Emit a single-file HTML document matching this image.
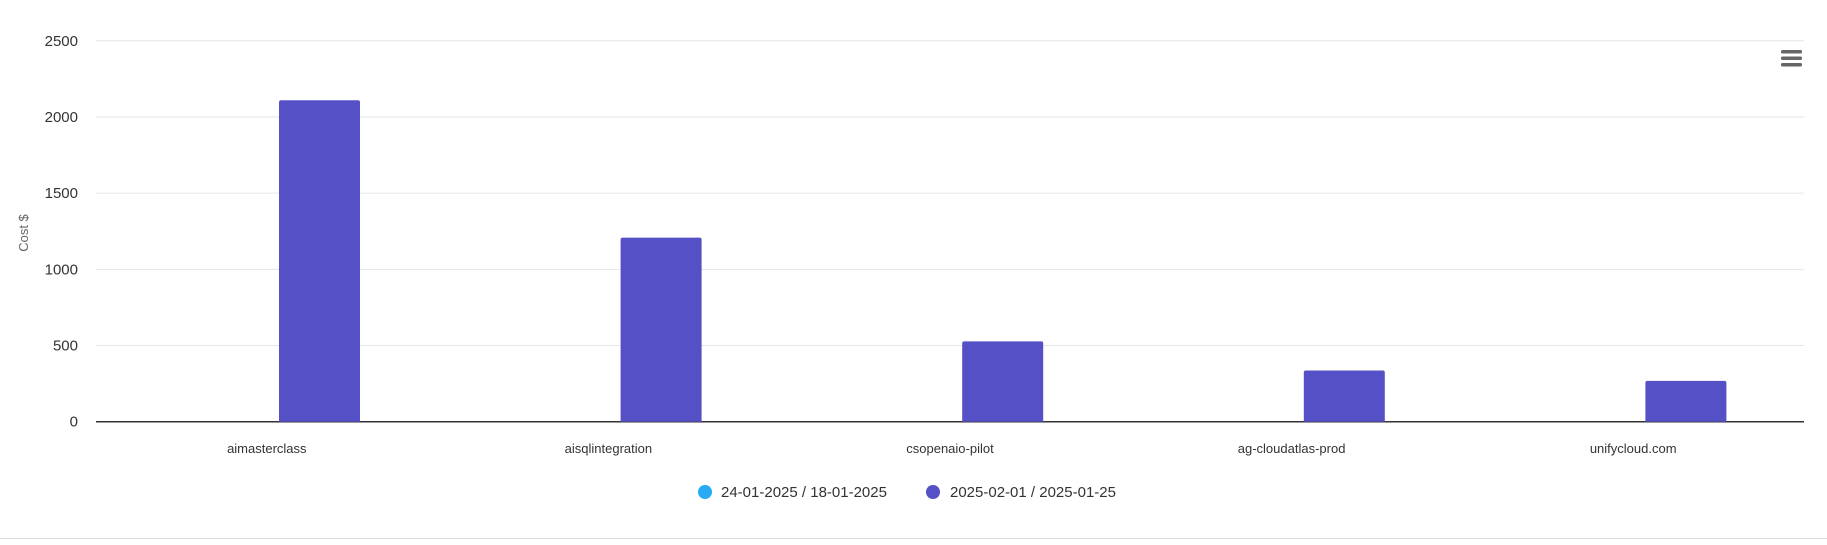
<!DOCTYPE html>
<html><head><meta charset="utf-8"><style>
html,body{margin:0;padding:0;background:#fff;width:1827px;height:545px;overflow:hidden;font-family:"Liberation Sans",Arial,sans-serif}
</style></head><body>
<svg id="chart" width="1827" height="545" xmlns="http://www.w3.org/2000/svg" font-family="Liberation Sans, Arial, sans-serif">
<g id="grid"></g>
<g id="bars"></g>
<g id="xlabels"></g>
<g id="ylabels"></g>
<text x="0" y="0" transform="translate(28,233) rotate(-90)" text-anchor="middle" font-size="13" fill="#666">Cost $</text>
<g fill="#666">
<rect x="1781" y="50" width="21" height="3.5" rx="1.5"/><rect x="1781" y="56.5" width="21" height="3.5" rx="1.5"/><rect x="1781" y="63" width="21" height="3.5" rx="1.5"/>
</g>
<g>
<g><circle cx="705" cy="492" r="7" fill="#29aaf4"/><text x="721" y="497" font-size="15" fill="#333">24-01-2025 / 18-01-2025</text></g>
<g><circle cx="933" cy="492" r="7" fill="#5550c5"/><text x="950" y="497" font-size="15" fill="#333">2025-02-01 / 2025-01-25</text></g>
</g>
<line x1="0" y1="538.5" x2="1827" y2="538.5" stroke="#ddd"/>
</svg>
<script>
const categories=["aimasterclass","aisqlintegration","csopenaio-pilot","ag-cloudatlas-prod","unifycloud.com"];
const series1=[0,0,0,0,0];
const series2=[2110,1208,527,336,268];
const yTicks=[0,500,1000,1500,2000,2500];
const NS="http://www.w3.org/2000/svg";
const L=96,R=1804,T=40.8,B=421.7,YMAX=2500;
const y=v=>B-(v/YMAX)*(B-T);
const cw=(R-L)/categories.length;
const xc=i=>L+cw*(i+0.5);
function mk(tag,attrs,parent){const e=document.createElementNS(NS,tag);for(const k in attrs)e.setAttribute(k,attrs[k]);document.getElementById(parent).appendChild(e);return e;}
yTicks.forEach(t=>{
  const g=mk('line',{x1:L,x2:R,y1:y(t),y2:y(t),stroke:t===0?'#333':'#e6e6e6','stroke-width':t===0?1.5:1},'grid');
  
  
  const tx=mk('text',{x:78,y:y(t)+5,'text-anchor':'end','font-size':15,fill:'#333'},'ylabels');
  tx.textContent=t;
  
  
});
const bw=81;
categories.forEach((c,i)=>{
  [series1,series2].forEach((s,j)=>{
    const v=s[i];if(v<=0)return;
    const x=xc(i)+(j===0?-1:1)*52.7-bw/2;
    const r=mk('path',{d:`M${x},${B} L${x},${y(v)+2} Q${x},${y(v)} ${x+2},${y(v)} L${x+bw-2},${y(v)} Q${x+bw},${y(v)} ${x+bw},${y(v)+2} L${x+bw},${B} Z`,fill:j===0?'#29aaf4':'#5550c5'},'bars');
    
    
  });
  const t=mk('text',{x:xc(i),y:453,'text-anchor':'middle','font-size':13,fill:'#333'},'xlabels');
  t.textContent=c;
  
  
});
</script>
</body></html>
